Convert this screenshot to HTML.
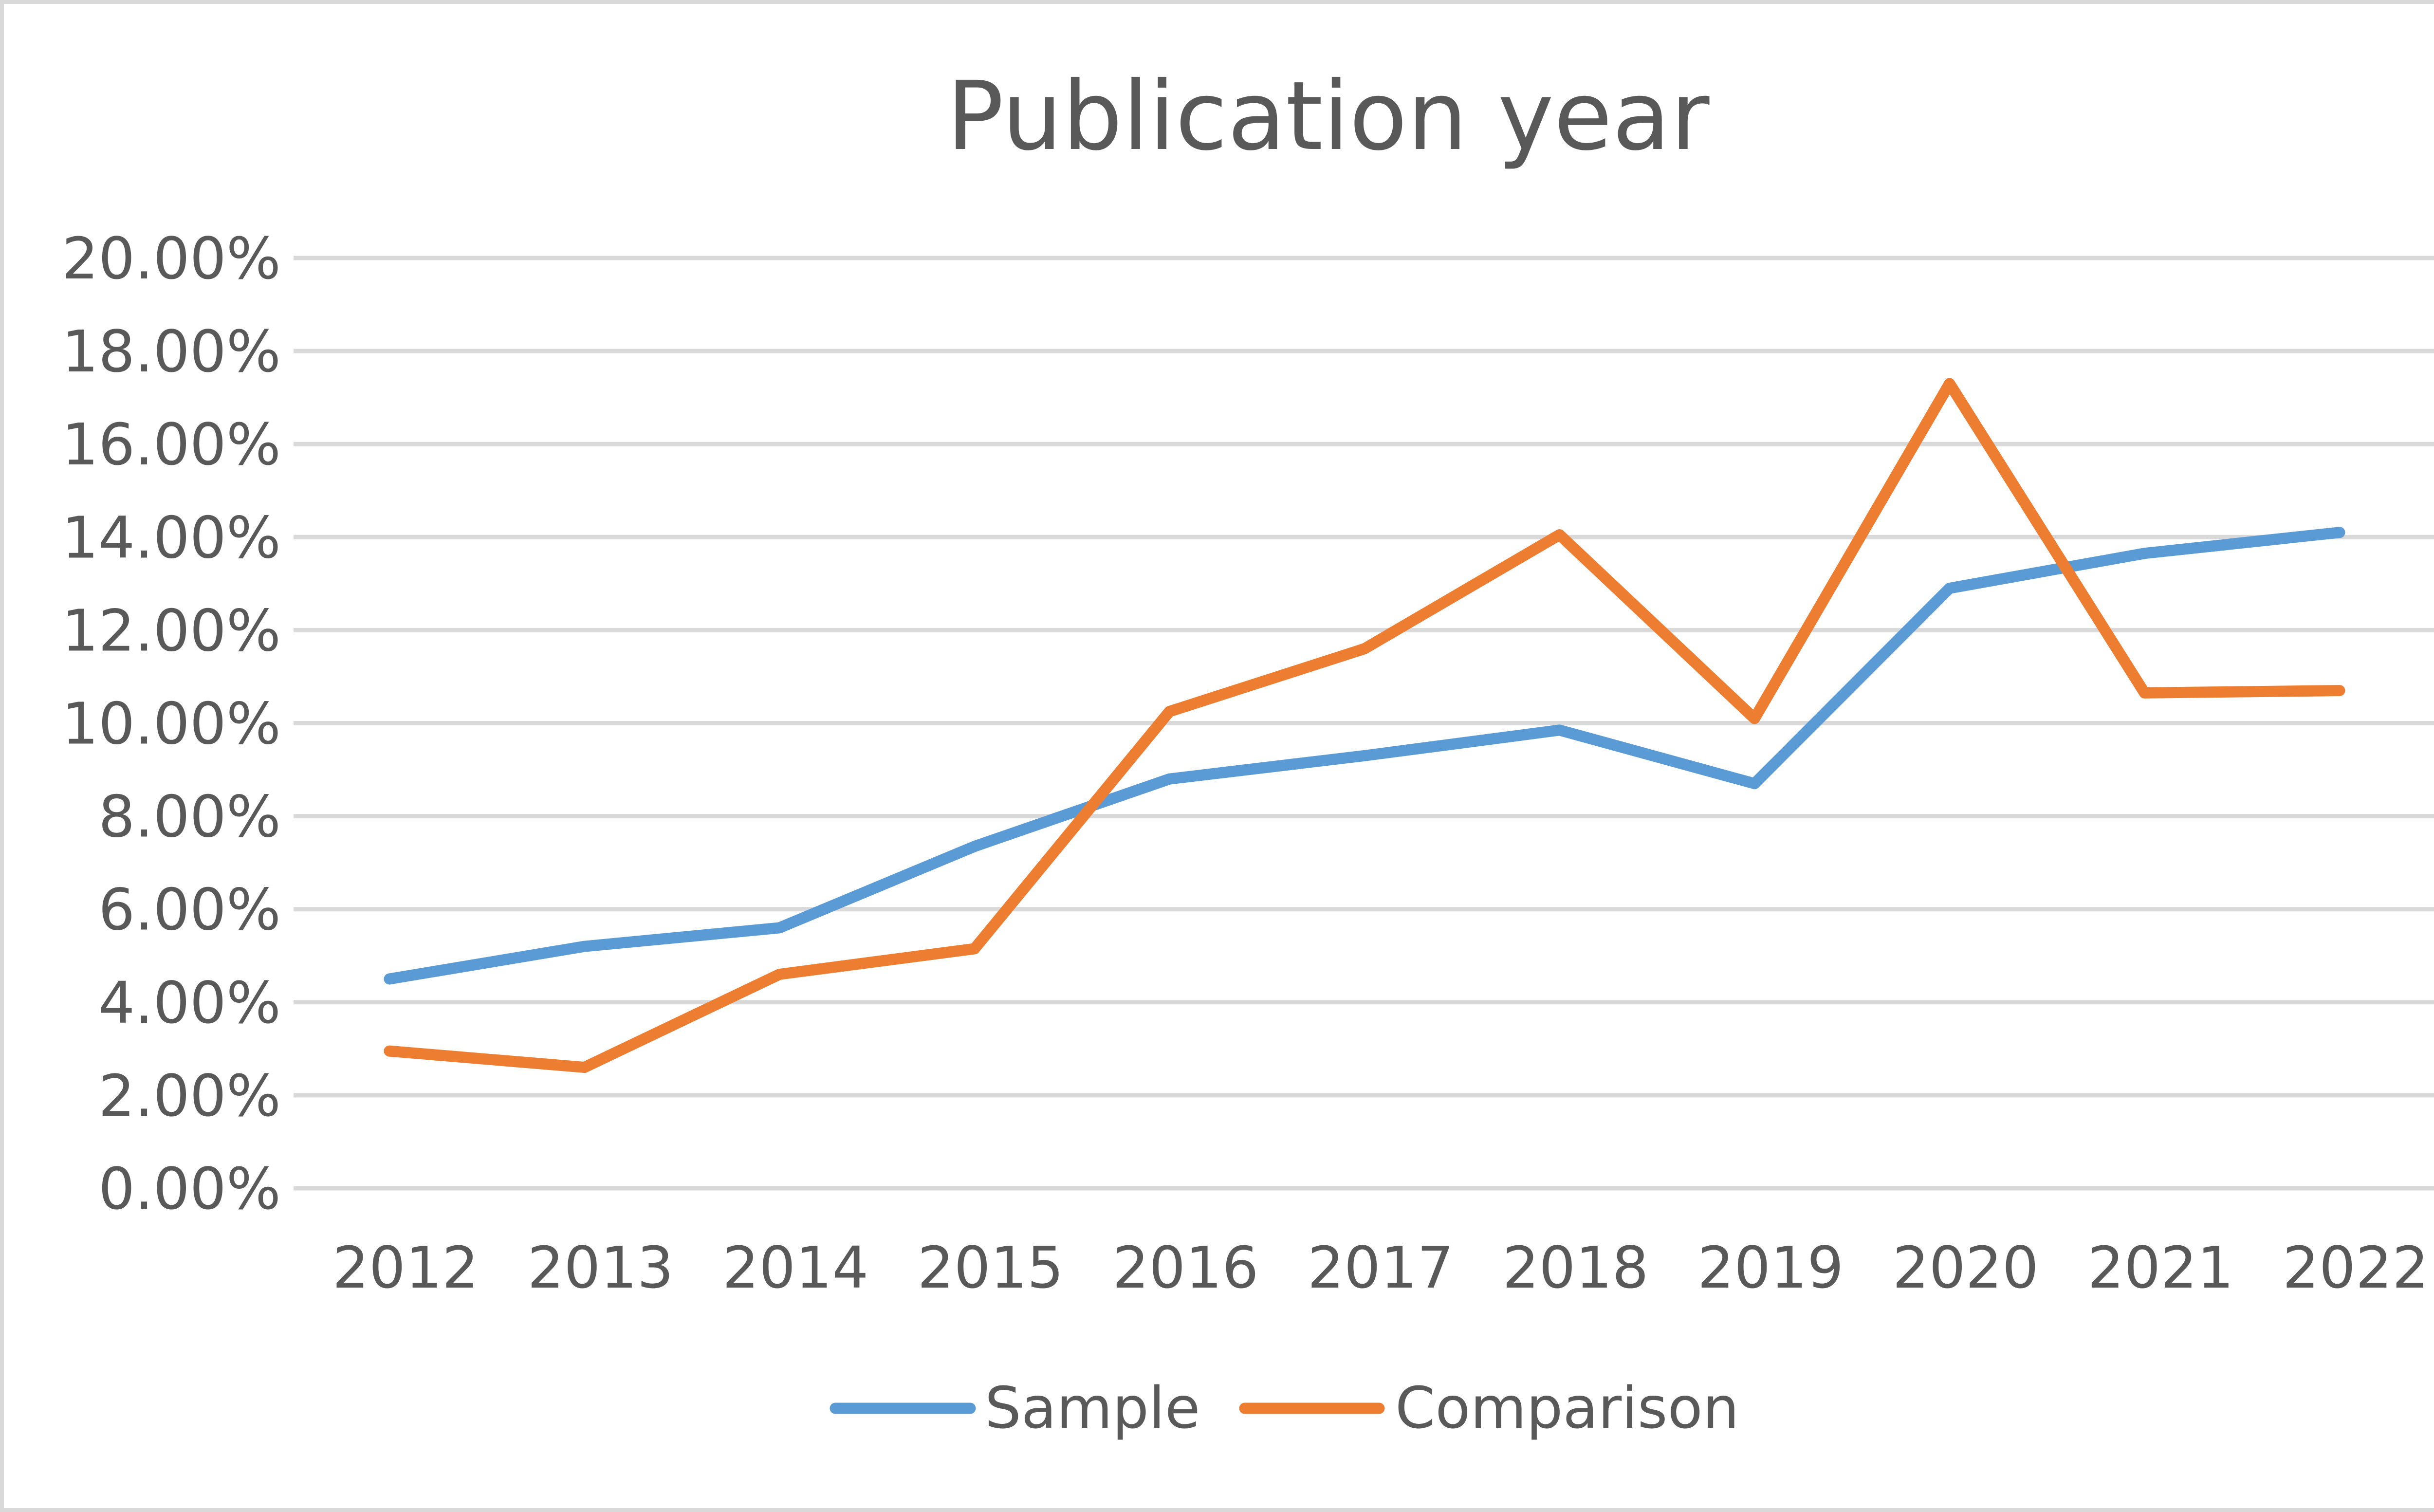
<!DOCTYPE html>
<html><head><meta charset="utf-8"><style>
html,body{margin:0;padding:0;background:#fff;width:5166px;height:3106px;overflow:hidden}
svg{display:block;position:absolute;left:0;top:0}
text{font-family:"DejaVu Sans","Liberation Sans",sans-serif;fill:#595959}
</style></head><body>
<svg width="5166" height="3106" viewBox="0 0 5166 3106">
<rect x="4" y="4" width="5158" height="3098" fill="#fff" stroke="#d9d9d9" stroke-width="8"/>
<text x="2728" y="306" font-size="195" text-anchor="middle">Publication year</text>
<g id="grid"></g>
<g id="yticks"></g>
<g id="xticks"></g>
<g id="series"></g>
<g>
<g>
<line x1="1716" y1="2893" x2="1993" y2="2893" stroke="#5b9bd5" stroke-width="23" stroke-linecap="round"/>
<text x="2023" y="2933" font-size="118">Sample</text></g>
<g>
<line x1="2557" y1="2893" x2="2833" y2="2893" stroke="#ed7d31" stroke-width="23" stroke-linecap="round"/>
<text x="2866" y="2933" font-size="118">Comparison</text></g>
</g>
</svg>
<script>
const categories=["2012","2013","2014","2015","2016","2017","2018","2019","2020","2021","2022"];
const sampleValues=[4.5,5.2,5.6,7.35,8.8,9.3,9.85,8.7,12.9,13.65,14.1];
const comparisonValues=[2.95,2.6,4.6,5.15,10.25,11.6,14.05,10.1,17.3,10.65,10.7];
const yTicks=[0,2,4,6,8,10,12,14,16,18,20];
const NS="http://www.w3.org/2000/svg";
const x0=800,x1=4806,yb=2441,yt=530;
function xs(i){return x0+(x1-x0)*i/(categories.length-1);}
function ys(v){return yb-(yb-yt)*v/20;}
const grid=document.getElementById('grid'),yt_=document.getElementById('yticks'),xt=document.getElementById('xticks'),se=document.getElementById('series');
yTicks.forEach(v=>{
 const l=document.createElementNS(NS,'line');
 
 
 l.setAttribute('x1',603);l.setAttribute('x2',5001);l.setAttribute('y1',ys(v));l.setAttribute('y2',ys(v));
 l.setAttribute('stroke','#d9d9d9');l.setAttribute('stroke-width',9);grid.appendChild(l);
 const t=document.createElementNS(NS,'text');
 
 
 t.setAttribute('x',577);t.setAttribute('y',ys(v)+42);t.setAttribute('font-size',118);t.setAttribute('text-anchor','end');
 t.textContent=v.toFixed(2)+'%';yt_.appendChild(t);
});
categories.forEach((c,i)=>{
 const t=document.createElementNS(NS,'text');
 
 
 t.setAttribute('x',xs(i)+33);t.setAttribute('y',2645);t.setAttribute('font-size',118);t.setAttribute('text-anchor','middle');
 t.textContent=c;xt.appendChild(t);
});
function line(vals,color,name){
 const p=document.createElementNS(NS,'polyline');
 
 
 p.setAttribute('points',vals.map((v,i)=>xs(i)+','+ys(v)).join(' '));
 p.setAttribute('fill','none');p.setAttribute('stroke',color);p.setAttribute('stroke-width',23);
 p.setAttribute('stroke-linecap','round');p.setAttribute('stroke-linejoin','round');se.appendChild(p);
}
line(sampleValues,'#5b9bd5','sample-line');
line(comparisonValues,'#ed7d31','comparison-line');
</script>
</body></html>
